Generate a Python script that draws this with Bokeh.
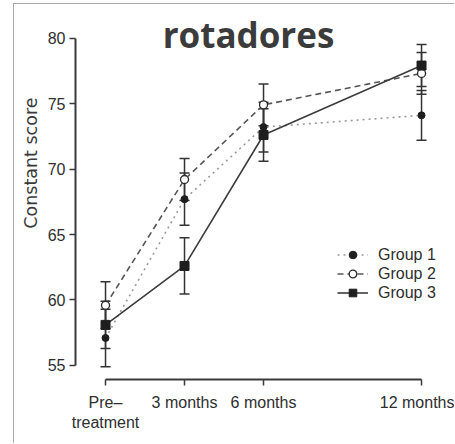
import math
from bokeh.plotting import figure
from bokeh.models import (ColumnDataSource, Whisker, TeeHead, Legend, LegendItem,
                          FixedTicker, Label)
from bokeh.embed import file_html
from bokeh.resources import INLINE

# ---- data ----
months = [0, 3, 6, 12]
tick_labels = ["Pre\u2013\ntreatment", "3 months", "6 months", "12 months"]
y_ticks = [55, 60, 65, 70, 75, 80]

g1_mean = [57.1, 67.7, 73.2, 74.1]
g1_se = [2.2, 2.0, 1.9, 1.9]
g2_mean = [59.6, 69.2, 74.9, 77.3]
g2_se = [1.8, 1.6, 1.6, 1.6]
g3_mean = [58.1, 62.6, 72.6, 77.9]
g3_se = [1.8, 2.15, 2.0, 1.6]

group_names = ["Group 1", "Group 2", "Group 3"]
title_text = "rotadores"
y_label = "Constant score"

W, H = 441, 440
TXT = "#2e2e2e"
SANS = "Liberation Sans"

p = figure(width=W, height=H, output_backend="svg", toolbar_location=None,
           x_range=(-1.14, 13.10), y_range=(53.93, 81.34),
           min_border_left=61, min_border_right=5, min_border_top=16,
           min_border_bottom=65, title_location="left")
p.styles = {"margin-left": "13px", "margin-top": "3px",
            "border-left": "1px solid #a9a9a9", "border-top": "1px solid #a9a9a9"}
p.outline_line_color = None
p.xgrid.visible = False
p.ygrid.visible = False

# y-axis caption, drawn as the (left-side) figure title so it sits above centre
p.title.text = y_label
p.title.align = "right"
p.title.offset = 77
p.title.text_font = "DejaVu Sans"
p.title.text_font_style = "normal"
p.title.text_font_size = "17.5px"
p.title.text_color = "#3a3a3a"
p.title.standoff = 8

for ax in (p.xaxis[0], p.yaxis[0]):
    ax.axis_line_color = "#3a3a3a"
    ax.axis_line_width = 2
    ax.major_tick_line_color = "#3a3a3a"
    ax.major_tick_line_width = 1.5
    ax.major_tick_in = 0
    ax.major_tick_out = 6
    ax.minor_tick_line_color = None
    ax.major_label_text_font = SANS
    ax.major_label_text_font_size = "16px"
    ax.major_label_text_color = TXT

p.xaxis.ticker = FixedTicker(ticks=months)
p.xaxis.bounds = (months[0], months[-1])
p.xaxis.major_label_overrides = {m: t for m, t in zip(months, tick_labels)}
p.xaxis.major_label_standoff = 8
p.yaxis.ticker = FixedTicker(ticks=y_ticks)
p.yaxis.bounds = (y_ticks[0], y_ticks[-1])
p.yaxis.major_label_standoff = 4

means = [g1_mean, g2_mean, g3_mean]
ses = [g1_se, g2_se, g3_se]
line_styles = [dict(line_color="#9a9a9a", line_dash="2 4", line_width=1.6),
               dict(line_color="#555555", line_dash="6 4", line_width=1.6),
               dict(line_color="#3c3c3c", line_dash="solid", line_width=1.6)]
marker_styles = [dict(marker="circle", size=7, fill_color="#1e1e1e", line_color="#1e1e1e"),
                 dict(marker="circle", size=8, fill_color="white", line_color="#2a2a2a", line_width=1.3),
                 dict(marker="square", size=9, fill_color="#1e1e1e", line_color="#1e1e1e")]

items = []
for i in range(3):
    src = ColumnDataSource(dict(x=months, y=means[i],
                                upper=[m + s for m, s in zip(means[i], ses[i])],
                                lower=[m - s for m, s in zip(means[i], ses[i])]))
    w = Whisker(base="x", upper="upper", lower="lower", source=src,
                line_color="#333333", line_width=1.5,
                upper_head=TeeHead(size=10, line_color="#333333", line_width=1.5),
                lower_head=TeeHead(size=10, line_color="#333333", line_width=1.5))
    p.add_layout(w)
    lr = p.line("x", "y", source=src, **line_styles[i])
    items.append((lr, src))

scatters = []
for i in range(3):
    sr = p.scatter("x", "y", source=items[i][1], **marker_styles[i])
    scatters.append(sr)

legend = Legend(items=[LegendItem(label=group_names[i], renderers=[items[i][0], scatters[i]])
                       for i in range(3)],
                location=(262, 77), orientation="vertical",
                border_line_color=None, background_fill_alpha=0,
                padding=0, margin=0, spacing=0,
                glyph_width=31, glyph_height=19, label_height=19,
                label_standoff=10, label_text_font=SANS,
                label_text_font_size="16px", label_text_color=TXT)
p.add_layout(legend)

p.add_layout(Label(x=173, y=345, x_units="screen", y_units="screen",
                   text=title_text, text_align="center", text_baseline="alphabetic",
                   text_font="Open Sans", text_font_style="bold",
                   text_font_size="35px", text_color="#3b3b3b"))

open("out.html", "w").write(file_html(p, INLINE))
